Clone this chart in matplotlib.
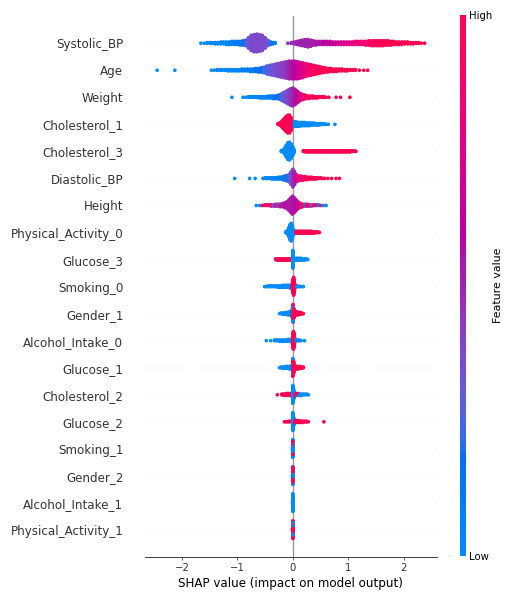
import numpy as np
import matplotlib
matplotlib.use("Agg")
import matplotlib.pyplot as plt
from matplotlib.colors import LinearSegmentedColormap
from matplotlib.cm import ScalarMappable

# features, top to bottom
FEATURES = ["Systolic_BP", "Age", "Weight", "Cholesterol_1", "Cholesterol_3",
            "Diastolic_BP", "Height", "Physical_Activity_0", "Glucose_3",
            "Smoking_0", "Gender_1", "Alcohol_Intake_0", "Glucose_1",
            "Cholesterol_2", "Glucose_2", "Smoking_1", "Gender_2",
            "Alcohol_Intake_1", "Physical_Activity_1"]

# (shap value, number of points, feature value 0=low .. 1=high)
systolic_bp = [
    (-1.66, 1, 0.0), (-1.60, 1, 0.0), (-1.55, 2, 0.02), (-1.50, 2, 0.02), (-1.45, 2, 0.02),
    (-1.40, 3, 0.03), (-1.35, 3, 0.03), (-1.30, 4, 0.05), (-1.25, 4, 0.05), (-1.20, 5, 0.05),
    (-1.15, 5, 0.08), (-1.10, 6, 0.08), (-1.05, 6, 0.1), (-1.00, 6, 0.12), (-0.95, 7, 0.15),
    (-0.90, 8, 0.18), (-0.85, 10, 0.25), (-0.80, 18, 0.33), (-0.75, 26, 0.37), (-0.70, 29, 0.38),
    (-0.65, 30, 0.38), (-0.60, 28, 0.38), (-0.55, 26, 0.38), (-0.50, 18, 0.36), (-0.45, 10, 0.3),
    (-0.40, 5, 0.2), (-0.36, 3, 0.15), (-0.32, 2, 0.1),
    (-0.09, 1, 0.45), (-0.03, 2, 0.48), (0.02, 4, 0.48), (0.07, 6, 0.5), (0.12, 8, 0.5),
    (0.17, 10, 0.5), (0.22, 12, 0.5), (0.27, 13, 0.5), (0.32, 11, 0.52), (0.37, 8, 0.52),
    (0.42, 7, 0.55), (0.47, 6, 0.55), (0.52, 6, 0.57), (0.57, 6, 0.58), (0.62, 6, 0.6),
    (0.67, 6, 0.62), (0.72, 5, 0.64), (0.77, 5, 0.66), (0.82, 5, 0.68), (0.87, 5, 0.7),
    (0.92, 5, 0.72), (0.97, 5, 0.74), (1.02, 5, 0.76), (1.07, 5, 0.78), (1.12, 6, 0.8),
    (1.17, 6, 0.82), (1.22, 6, 0.84), (1.27, 6, 0.86), (1.32, 7, 0.88), (1.37, 8, 0.9),
    (1.42, 9, 0.92), (1.47, 9, 0.94), (1.52, 9, 0.95), (1.57, 9, 0.96), (1.62, 9, 0.97),
    (1.67, 8, 0.98), (1.72, 8, 0.99), (1.77, 7, 1.0), (1.82, 6, 1.0), (1.87, 5, 1.0),
    (1.92, 5, 1.0), (1.97, 5, 1.0), (2.02, 4, 1.0), (2.07, 4, 1.0), (2.12, 3, 1.0),
    (2.17, 3, 1.0), (2.22, 2, 1.0), (2.27, 2, 1.0), (2.32, 1, 1.0), (2.38, 1, 1.0)]
age = [
    (-2.45, 1, 0.0), (-2.13, 1, 0.0), (-1.47, 1, 0.0), (-1.42, 1, 0.0), (-1.37, 2, 0.02),
    (-1.32, 2, 0.02), (-1.27, 2, 0.03), (-1.22, 2, 0.03), (-1.17, 3, 0.03), (-1.12, 3, 0.05),
    (-1.07, 3, 0.05), (-1.02, 3, 0.05), (-0.97, 3, 0.07), (-0.92, 4, 0.07), (-0.87, 4, 0.08),
    (-0.82, 4, 0.1), (-0.77, 5, 0.1), (-0.72, 5, 0.12), (-0.67, 6, 0.13), (-0.62, 7, 0.15),
    (-0.57, 8, 0.18), (-0.52, 10, 0.22), (-0.47, 14, 0.25), (-0.42, 16, 0.3), (-0.37, 18, 0.33),
    (-0.32, 20, 0.35), (-0.27, 22, 0.38), (-0.22, 24, 0.4), (-0.17, 26, 0.42), (-0.12, 28, 0.45),
    (-0.07, 30, 0.5), (-0.02, 30, 0.55), (0.03, 30, 0.6), (0.08, 29, 0.65), (0.13, 27, 0.7),
    (0.18, 25, 0.75), (0.23, 22, 0.8), (0.28, 20, 0.85), (0.33, 18, 0.9), (0.38, 16, 0.92),
    (0.43, 14, 0.95), (0.48, 12, 0.97), (0.53, 10, 1.0), (0.58, 8, 1.0), (0.63, 7, 1.0),
    (0.68, 6, 1.0), (0.73, 5, 1.0), (0.78, 5, 1.0), (0.83, 4, 1.0), (0.88, 4, 1.0),
    (0.93, 3, 1.0), (0.98, 3, 1.0), (1.03, 2, 1.0), (1.08, 2, 1.0), (1.13, 2, 1.0),
    (1.20, 1, 1.0), (1.28, 1, 1.0), (1.35, 1, 1.0)]
weight = [
    (-1.10, 1, 0.0), (-0.90, 1, 0.0), (-0.85, 1, 0.0), (-0.80, 2, 0.02), (-0.76, 2, 0.02),
    (-0.72, 2, 0.03), (-0.68, 2, 0.03), (-0.64, 2, 0.05), (-0.60, 3, 0.05), (-0.56, 3, 0.05),
    (-0.52, 3, 0.07), (-0.48, 3, 0.08), (-0.44, 4, 0.1), (-0.40, 4, 0.1), (-0.36, 5, 0.12),
    (-0.32, 5, 0.15), (-0.28, 6, 0.18), (-0.24, 8, 0.2), (-0.20, 12, 0.25), (-0.16, 16, 0.3),
    (-0.12, 20, 0.35), (-0.08, 24, 0.4), (-0.04, 28, 0.45), (0.00, 30, 0.5), (0.04, 26, 0.55),
    (0.08, 20, 0.62), (0.12, 14, 0.7), (0.16, 10, 0.78), (0.20, 8, 0.85), (0.24, 6, 0.9),
    (0.28, 5, 0.93), (0.32, 4, 0.95), (0.36, 4, 0.97), (0.40, 3, 1.0), (0.44, 3, 1.0),
    (0.48, 2, 1.0), (0.52, 2, 1.0), (0.56, 2, 1.0), (0.60, 1, 1.0), (0.65, 1, 1.0),
    (0.78, 1, 1.0), (0.86, 1, 1.0), (1.03, 1, 1.0)]
cholesterol_1 = [
    (-0.27, 2, 1.0), (-0.24, 4, 1.0), (-0.21, 8, 1.0), (-0.18, 14, 1.0), (-0.15, 20, 1.0),
    (-0.12, 26, 1.0), (-0.09, 30, 1.0), (-0.06, 30, 1.0), (-0.03, 22, 1.0), (-0.01, 10, 1.0),
    (0.03, 8, 0.0), (0.06, 8, 0.0), (0.09, 7, 0.0), (0.12, 7, 0.0), (0.15, 6, 0.0),
    (0.18, 6, 0.0), (0.21, 6, 0.0), (0.24, 5, 0.0), (0.27, 5, 0.0), (0.30, 5, 0.0),
    (0.33, 4, 0.0), (0.36, 4, 0.0), (0.39, 4, 0.0), (0.42, 3, 0.0), (0.45, 3, 0.0),
    (0.48, 3, 0.0), (0.51, 2, 0.0), (0.54, 2, 0.0), (0.57, 2, 0.0), (0.60, 1, 0.0),
    (0.64, 1, 0.0), (0.76, 1, 0.0)]
cholesterol_3 = [
    (-0.21, 2, 0.0), (-0.18, 4, 0.0), (-0.15, 10, 0.0), (-0.12, 20, 0.0), (-0.09, 28, 0.0),
    (-0.06, 30, 0.0), (-0.03, 24, 0.0), (0.00, 14, 0.0), (0.02, 6, 0.0),
    (0.19, 2, 1.0), (0.23, 3, 1.0), (0.27, 3, 1.0), (0.31, 3, 1.0), (0.35, 3, 1.0),
    (0.39, 3, 1.0), (0.43, 3, 1.0), (0.47, 3, 1.0), (0.51, 3, 1.0), (0.55, 3, 1.0),
    (0.59, 3, 1.0), (0.63, 3, 1.0), (0.67, 3, 1.0), (0.71, 3, 1.0), (0.75, 3, 1.0),
    (0.79, 3, 1.0), (0.83, 3, 1.0), (0.87, 3, 1.0), (0.91, 3, 1.0), (0.95, 3, 1.0),
    (0.99, 3, 1.0), (1.03, 3, 1.0), (1.07, 2, 1.0), (1.11, 2, 1.0), (1.14, 1, 1.0)]
diastolic_bp = [
    (-1.05, 1, 0.0), (-0.78, 1, 0.0), (-0.68, 1, 0.0), (-0.54, 1, 0.02), (-0.50, 2, 0.02),
    (-0.46, 2, 0.03), (-0.42, 2, 0.05), (-0.38, 3, 0.05), (-0.34, 3, 0.05), (-0.30, 3, 0.07),
    (-0.26, 4, 0.08), (-0.22, 4, 0.1), (-0.18, 6, 0.12), (-0.14, 8, 0.15), (-0.10, 10, 0.2),
    (-0.06, 14, 0.28), (-0.03, 22, 0.35), (0.00, 30, 0.42), (0.03, 22, 0.5), (0.06, 12, 0.7),
    (0.10, 9, 0.8), (0.14, 8, 0.85), (0.18, 7, 0.9), (0.22, 6, 0.92), (0.26, 5, 0.95),
    (0.30, 4, 1.0), (0.34, 4, 1.0), (0.38, 3, 1.0), (0.42, 3, 1.0), (0.46, 2, 1.0),
    (0.50, 2, 1.0), (0.54, 1, 1.0), (0.57, 1, 1.0), (0.63, 1, 1.0), (0.70, 1, 1.0),
    (0.78, 1, 1.0), (0.84, 1, 1.0)]
height = [
    (-0.66, 1, 0.0), (-0.60, 1, 0.0), (-0.55, 1, 0.95), (-0.51, 2, 0.95), (-0.47, 2, 0.9),
    (-0.43, 2, 0.85), (-0.39, 3, 0.9), (-0.35, 3, 0.3), (-0.31, 4, 0.8), (-0.27, 4, 0.2),
    (-0.23, 5, 0.85), (-0.19, 6, 0.5), (-0.15, 8, 0.6), (-0.11, 12, 0.55), (-0.07, 18, 0.55),
    (-0.04, 24, 0.55), (-0.01, 30, 0.55), (0.02, 26, 0.55), (0.05, 20, 0.6), (0.08, 14, 0.55),
    (0.11, 10, 0.7), (0.14, 7, 0.85), (0.18, 5, 0.9), (0.22, 4, 0.2), (0.26, 4, 0.9),
    (0.30, 3, 0.9), (0.34, 3, 0.3), (0.38, 2, 0.9), (0.42, 2, 0.9), (0.46, 2, 0.1),
    (0.50, 1, 0.9), (0.55, 1, 0.05), (0.60, 1, 0.0)]
physical_activity_0 = [
    (-0.13, 2, 0.0), (-0.11, 4, 0.0), (-0.09, 8, 0.0), (-0.07, 16, 0.0), (-0.05, 26, 0.0),
    (-0.03, 30, 0.0), (-0.01, 22, 0.0), (0.01, 10, 0.0), (0.03, 4, 0.0),
    (0.06, 4, 1.0), (0.09, 4, 1.0), (0.12, 4, 1.0), (0.15, 4, 1.0), (0.18, 4, 1.0),
    (0.21, 4, 1.0), (0.24, 4, 1.0), (0.27, 4, 1.0), (0.30, 4, 1.0), (0.33, 4, 1.0),
    (0.36, 3, 1.0), (0.39, 3, 1.0), (0.42, 2, 1.0), (0.45, 2, 1.0), (0.48, 1, 1.0)]
glucose_3 = [
    (-0.31, 2, 1.0), (-0.28, 3, 1.0), (-0.25, 3, 1.0), (-0.22, 3, 1.0), (-0.19, 3, 1.0),
    (-0.16, 3, 1.0), (-0.13, 3, 1.0), (-0.10, 3, 1.0), (-0.07, 3, 1.0), (-0.04, 3, 1.0),
    (0.00, 30, 0.0), (0.03, 4, 0.0), (0.06, 4, 0.0), (0.09, 4, 0.0), (0.12, 4, 0.0),
    (0.15, 4, 0.0), (0.18, 3, 0.0), (0.21, 3, 0.0), (0.24, 2, 0.0), (0.27, 1, 0.0)]
smoking_0 = [
    (-0.51, 1, 0.0), (-0.48, 1, 0.0), (-0.45, 2, 0.0), (-0.42, 2, 0.0), (-0.39, 2, 0.0),
    (-0.36, 2, 0.0), (-0.33, 2, 0.0), (-0.30, 2, 0.0), (-0.27, 3, 0.0), (-0.24, 3, 0.0),
    (-0.21, 3, 0.0), (-0.18, 4, 0.0), (-0.15, 4, 0.0), (-0.12, 4, 0.0), (-0.09, 4, 0.0),
    (-0.06, 5, 0.0), (-0.03, 5, 0.0),
    (-0.005, 14, 1.0), (0.005, 24, 1.0), (0.015, 30, 1.0), (0.025, 20, 1.0), (0.035, 8, 1.0),
    (0.07, 1, 0.0), (0.10, 2, 0.0), (0.13, 1, 0.0), (0.16, 1, 0.0), (0.19, 1, 0.0)]
gender_1 = [
    (-0.24, 1, 0.0), (-0.21, 2, 0.0), (-0.18, 3, 0.0), (-0.15, 3, 0.0), (-0.12, 4, 0.0),
    (-0.09, 5, 0.0), (-0.06, 6, 0.0), (-0.03, 8, 0.0),
    (-0.01, 10, 1.0), (-0.01, 4, 0.0), (0.005, 20, 1.0), (0.005, 10, 0.0), (0.02, 16, 1.0),
    (0.04, 8, 1.0), (0.07, 6, 1.0), (0.10, 5, 1.0), (0.13, 4, 1.0), (0.16, 3, 1.0),
    (0.19, 1, 1.0)]
alcohol_intake_0 = [
    (-0.48, 1, 0.0), (-0.40, 1, 0.0), (-0.33, 2, 0.0), (-0.30, 2, 0.0), (-0.27, 2, 0.0),
    (-0.24, 3, 0.0), (-0.21, 3, 0.0), (-0.18, 3, 0.0), (-0.15, 3, 0.0), (-0.12, 3, 0.0),
    (-0.09, 4, 0.0), (-0.06, 4, 0.0), (-0.03, 5, 0.0),
    (0.00, 20, 1.0), (0.01, 30, 1.0), (0.02, 24, 1.0), (0.03, 10, 1.0),
    (0.06, 2, 0.0), (0.09, 2, 0.0), (0.12, 2, 0.0), (0.15, 1, 0.0), (0.21, 1, 0.0)]
glucose_1 = [
    (-0.24, 1, 0.0), (-0.21, 2, 0.0), (-0.18, 3, 0.0), (-0.15, 3, 0.0), (-0.12, 4, 0.0),
    (-0.09, 4, 0.0), (-0.06, 5, 0.0), (-0.03, 6, 0.0),
    (0.00, 26, 1.0), (0.00, 4, 0.0), (0.015, 20, 1.0),
    (0.04, 6, 1.0), (0.07, 5, 1.0), (0.10, 5, 1.0), (0.13, 4, 1.0), (0.16, 3, 1.0),
    (0.19, 2, 1.0)]
cholesterol_2 = [
    (-0.28, 1, 1.0), (-0.20, 2, 1.0), (-0.17, 3, 1.0), (-0.14, 3, 1.0), (-0.11, 4, 1.0),
    (-0.08, 4, 1.0), (-0.05, 4, 1.0), (-0.02, 5, 1.0),
    (0.00, 30, 0.0), (0.015, 16, 0.0),
    (0.04, 3, 0.0), (0.04, 2, 1.0), (0.07, 2, 0.0), (0.07, 2, 1.0), (0.10, 2, 0.0),
    (0.10, 2, 1.0), (0.13, 3, 0.0), (0.16, 3, 0.0), (0.19, 2, 0.0), (0.22, 2, 0.0),
    (0.25, 2, 0.0), (0.28, 1, 0.0)]
glucose_2 = [
    (-0.15, 1, 1.0), (-0.12, 1, 1.0), (-0.09, 1, 1.0), (-0.06, 2, 1.0), (-0.03, 2, 1.0),
    (0.00, 30, 0.0), (0.015, 14, 0.0),
    (0.04, 4, 1.0), (0.07, 4, 1.0), (0.10, 4, 1.0), (0.13, 3, 1.0), (0.16, 3, 1.0),
    (0.19, 3, 1.0), (0.22, 2, 1.0), (0.25, 2, 1.0), (0.28, 1, 1.0), (0.56, 1, 1.0)]
smoking_1 = [(-0.004, 6, 0.0), (0.0, 26, 0.0), (0.0, 4, 1.0), (0.004, 6, 0.0)]
gender_2 = [(-0.004, 4, 0.0), (0.0, 20, 0.0), (0.0, 10, 1.0), (0.004, 4, 0.0)]
alcohol_intake_1 = [(-0.004, 4, 0.0), (0.0, 30, 0.0), (0.004, 4, 0.0)]
physical_activity_1 = [(-0.004, 4, 1.0), (0.0, 26, 1.0), (0.0, 4, 0.0), (0.004, 4, 1.0)]

ROWS = [systolic_bp, age, weight, cholesterol_1, cholesterol_3, diastolic_bp, height,
        physical_activity_0, glucose_3, smoking_0, gender_1, alcohol_intake_0, glucose_1,
        cholesterol_2, glucose_2, smoking_1, gender_2, alcohol_intake_1, physical_activity_1]

ROW_HEIGHT = 0.4
AXIS_COLOR = "#333333"


def lch_to_rgb(l, c, h):
    a, b = c * np.cos(h), c * np.sin(h)
    fy = (l + 16) / 116
    fx, fz = fy + a / 500, fy - b / 200

    def finv(t):
        return t ** 3 if t > 6 / 29 else 3 * (6 / 29) ** 2 * (t - 4 / 29)
    X, Y, Z = 0.95047 * finv(fx), finv(fy), 1.08883 * finv(fz)
    rgb = np.array([3.2404542 * X - 1.5371385 * Y - 0.4985314 * Z,
                    -0.9692660 * X + 1.8760108 * Y + 0.0415560 * Z,
                    0.0556434 * X - 0.2040259 * Y + 1.0572252 * Z])
    rgb = np.where(rgb <= 0.0031308, 12.92 * rgb, 1.055 * np.abs(rgb) ** (1 / 2.4) - 0.055)
    return np.clip(rgb, 0, 1)


def red_blue_cmap(nsteps=100):
    # blue -> purple -> red through LCH space (like shap's red_blue)
    blue_lch = [54., 70., 4.6588]
    red_lch = [54., 90., 0.35470565 + 2 * np.pi]
    l_mid = 40.
    l_vals = list(np.linspace(blue_lch[0], l_mid, nsteps // 2)) + \
        list(np.linspace(l_mid, red_lch[0], nsteps // 2))
    c_vals = np.linspace(blue_lch[1], red_lch[1], nsteps)
    h_vals = np.linspace(blue_lch[2], red_lch[2], nsteps)
    cols = [lch_to_rgb(l, c, h) for l, c, h in zip(l_vals, c_vals, h_vals)]
    return LinearSegmentedColormap.from_list("red_blue", cols)


def swarm_offsets(shaps):
    n = len(shaps)
    nbins = 100
    quant = np.round(nbins * (shaps - shaps.min()) / (shaps.max() - shaps.min() + 1e-8))
    mix = (np.arange(n) * 0.6180339887) % 1  # fixed shuffle inside a bin
    inds = np.argsort(quant + 0.5 * mix, kind="stable")
    layer = 0
    last_bin = -1
    ys = np.zeros(n)
    for ind in inds:
        if quant[ind] != last_bin:
            layer = 0
        ys[ind] = np.ceil(layer / 2) * ((layer % 2) * 2 - 1)
        layer += 1
        last_bin = quant[ind]
    ys *= 0.9 * (ROW_HEIGHT / np.max(ys + 1))
    return ys


cmap = red_blue_cmap()

fig = plt.figure(figsize=(527 / 66, 600 / 66), dpi=66)
ax = fig.add_axes([0.275, 0.0717, 0.554, 0.9013])

n_feat = len(FEATURES)
ax.axvline(x=0, color="#999999", zorder=-1)
for i, rows in enumerate(ROWS):
    pos = n_feat - 1 - i
    ax.axhline(y=pos, color="#cccccc", lw=0.5, dashes=(1, 5), zorder=-1)
    shaps = np.array([v for v, n, c in rows for _ in range(n)])
    feats = np.array([c for v, n, c in rows for _ in range(n)])
    ys = swarm_offsets(shaps)
    ax.scatter(shaps, pos + ys, c=feats, cmap=cmap, vmin=0, vmax=1, s=16,
               alpha=1, linewidth=0, zorder=3, rasterized=True)

ax.set_yticks(range(n_feat))
ax.set_yticklabels(list(reversed(FEATURES)), fontsize=13)
ax.xaxis.set_ticks_position("bottom")
ax.yaxis.set_ticks_position("none")
for side in ("right", "top", "left"):
    ax.spines[side].set_visible(False)
ax.tick_params(color=AXIS_COLOR, labelcolor=AXIS_COLOR)
ax.tick_params("y", length=20, width=0.5, which="major")
ax.tick_params("x", labelsize=11)
ax.set_ylim(-1, n_feat)
ax.set_xlim(-2.67, 2.6)
ax.set_xticks([-2, -1, 0, 1, 2])
ax.set_xlabel("SHAP value (impact on model output)", fontsize=13)

cax = fig.add_axes([0.873, 0.0733, 0.0114, 0.9017])
m = ScalarMappable(cmap=cmap)
m.set_array([0, 1])
cb = fig.colorbar(m, cax=cax, ticks=[0, 1])
cb.set_ticklabels(["Low", "High"])
cb.set_label("Feature value", size=12, labelpad=0)
cb.ax.tick_params(labelsize=11, length=0)
cb.outline.set_visible(False)

fig.savefig("out.png", dpi=66)
